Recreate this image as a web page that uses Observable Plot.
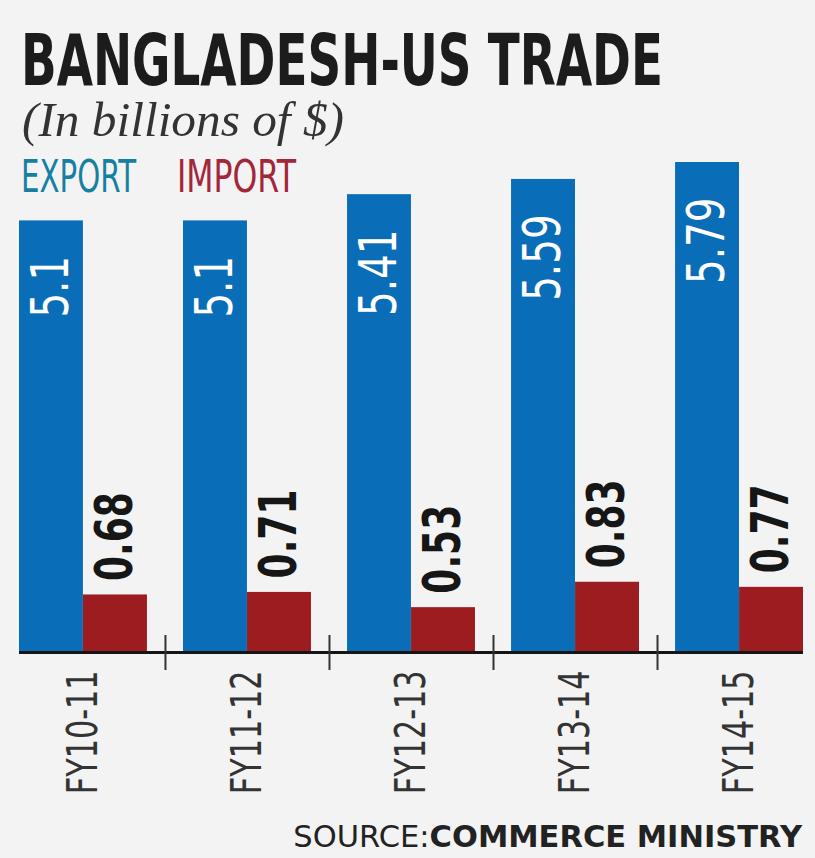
<!DOCTYPE html>
<html>
<head>
<meta charset="utf-8">
<script src="https://cdn.jsdelivr.net/npm/d3@7"></script>
<script src="https://cdn.jsdelivr.net/npm/@observablehq/plot@0.6"></script>
<style>
  html, body { margin: 0; padding: 0; background: #f3f3f3; }
  #wrap { position: relative; width: 815px; height: 858px; overflow: hidden; }
  .narrow { font-family: "Liberation Sans Narrow", "DejaVu Sans Condensed", "Roboto", sans-serif; font-stretch: condensed; }
  #title { position: absolute; left: 21px; top: 28px; font-size: 72px; font-weight: bold; line-height: 0.9; color: #1c1c1c; white-space: nowrap; transform-origin: 0 0; }
  #subtitle { position: absolute; left: 22px; top: 96px; font-family: "Liberation Serif", "DejaVu Serif", serif; font-style: italic; font-size: 48px; line-height: 1; color: #333; white-space: nowrap; transform-origin: 0 0; }
  .legend { position: absolute; top: 155px; font-size: 44px; line-height: 1; white-space: nowrap; transform-origin: 0 0; }
  #chart { position: absolute; left: 0; top: 150px; }
  #source { position: absolute; right: 13px; top: 822px; font-family: "DejaVu Sans", sans-serif; font-size: 30.5px; line-height: 1; color: #222; white-space: nowrap; }
</style>
</head>
<body>
<div id="wrap">
  <div id="chart"></div>
  <div id="title" class="narrow">BANGLADESH-US TRADE</div>
  <div id="subtitle">(In billions of $)</div>
  <div id="legExport" class="legend narrow" style="left:21px;color:#1580a2">EXPORT</div>
  <div id="legImport" class="legend narrow" style="left:177px;color:#a3263a">IMPORT</div>
  <div id="source">SOURCE:<b>COMMERCE MINISTRY</b></div>
</div>
<script>
const years = ["FY10-11", "FY11-12", "FY12-13", "FY13-14", "FY14-15"];
const exportValues = [5.1, 5.1, 5.41, 5.59, 5.79];
const importValues = [0.68, 0.71, 0.53, 0.83, 0.77];

const exportColor = "#0a6db7";
const importColor = "#9c1c20";
const narrowFont = '"Liberation Sans Narrow", "DejaVu Sans Condensed", "Roboto", sans-serif';

const data = years.map((year, i) => ({year, exp: exportValues[i], imp: importValues[i]}));

const chart = Plot.plot({
  width: 815,
  height: 700,
  marginLeft: 19,
  marginRight: 12,
  marginTop: 12,
  marginBottom: 198,
  style: {background: "transparent", overflow: "visible"},
  x: {type: "band", domain: years, paddingInner: 0.22, paddingOuter: 0, round: false, label: null},
  y: {domain: [0, d3.max(exportValues)], axis: null},
  marks: [
    Plot.barY(data, {x: "year", y: "exp", fill: exportColor, insetRight: 64}),
    Plot.barY(data, {x: "year", y: "imp", fill: importColor, insetLeft: 64}),
    Plot.ruleY([0], {stroke: "#151515", strokeWidth: 3}),
    Plot.ruleX(years.slice(0, -1), {x: d => d, y1: 0, y2: 0, dx: 82, insetTop: -17, insetBottom: -18, stroke: "#333", strokeWidth: 2}),
    Plot.text(data, {x: "year", y: "exp", text: d => String(d.exp), rotate: -90, textAnchor: "end", dx: -32, dy: 35, fill: "white", fontSize: 52, fontFamily: narrowFont}),
    Plot.text(data, {x: "year", y: "imp", text: d => String(d.imp), rotate: -90, textAnchor: "start", dx: 32, dy: -14, fill: "#161616", fontSize: 52, fontWeight: "bold", fontFamily: narrowFont}),
    Plot.axisX({anchor: "bottom", tickRotate: -90, tickSize: 0, tickPadding: 18, fontSize: 42, fontFamily: narrowFont, fill: "#333", label: null})
  ]
});
document.getElementById("chart").appendChild(chart);

// compress condensed glyphs to match the narrow lettering of the original
function squeeze(selection, factor) {
  selection.each(function () {
    const len = this.getComputedTextLength();
    this.setAttribute("textLength", (len * factor).toFixed(1));
    this.setAttribute("lengthAdjust", "spacingAndGlyphs");
  });
}
const textGroups = d3.select(chart).selectAll('g[aria-label="text"]').nodes();
squeeze(d3.select(textGroups[0]).selectAll("text"), 0.83);
squeeze(d3.select(textGroups[1]).selectAll("text"), 0.77);
squeeze(d3.select(chart).selectAll('g[aria-label="x-axis tick label"] text'), 0.8);

function fitWidth(id, target) {
  const el = document.getElementById(id);
  const w = el.getBoundingClientRect().width;
  el.style.transform = `scaleX(${target / w})`;
}
fitWidth("title", 642);
fitWidth("subtitle", 322);
fitWidth("legExport", 115);
fitWidth("legImport", 119);
</script>
</body>
</html>
